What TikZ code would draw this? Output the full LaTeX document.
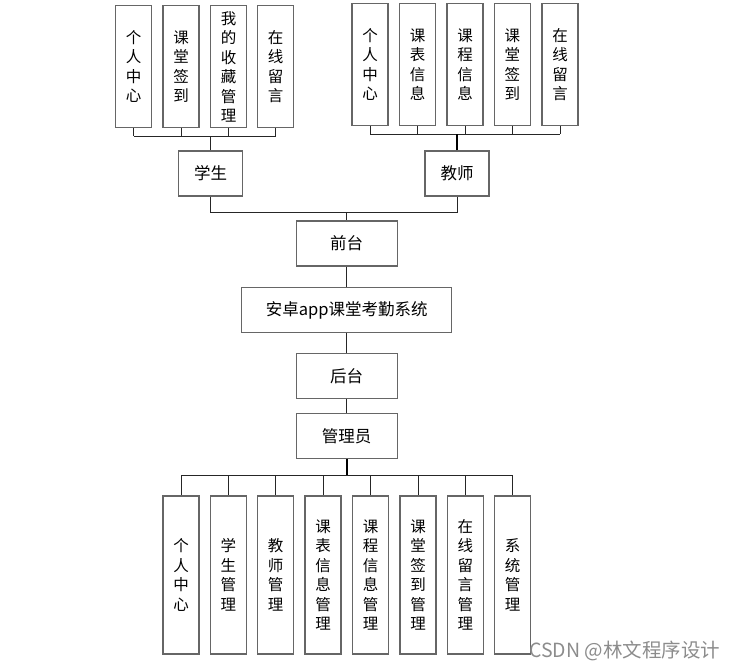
\documentclass[tikz,border=0pt]{standalone}
\usepackage{fontspec}
\setmainfont{Noto Sans CJK SC}
\begin{document}
\begin{tikzpicture}[x=1pt,y=-1pt,
  box/.style={draw=black!60,line width=1.3pt,fill=white,inner sep=0pt,align=center,
    font=\fontsize{15.5}{19.5}\selectfont},
  vbox/.style={box,minimum width=36pt},
  hbox/.style={box,minimum height=45pt,font=\fontsize{16.5}{19.5}\selectfont},
  conn/.style={draw=black!85,line width=1pt},
  thick conn/.style={draw=black,line width=2pt}]
\useasboundingbox (0,0) rectangle (737,670);

% student subtree
\foreach \i/\x/\t in {1/133.7/个\\人\\中\\心,2/181/课\\堂\\签\\到,3/228.5/我\\的\\收\\藏\\管\\理,4/275.7/在\\线\\留\\言}
  \node[vbox,minimum height=122pt] (s\i) at (\x,66.7) {\t};
\node[hbox,minimum width=64pt] (stu) at (210.5,173.5) {学生};

% teacher subtree
\foreach \i/\x/\t in {1/370/个\\人\\中\\心,2/417.5/课\\表\\信\\息,3/465/课\\程\\信\\息,4/512.3/课\\堂\\签\\到,5/560/在\\线\\留\\言}
  \node[vbox,minimum height=122pt] (t\i) at (\x,64.5) {\t};
\node[hbox,minimum width=64pt] (tea) at (457,173.5) {教师};

% central column
\node[hbox,minimum width=101pt] (front) at (346.7,243.5) {前台};
\node[hbox,minimum width=210pt] (sys) at (346.7,310.2) {安卓app课堂考勤系统};
\node[hbox,minimum width=101pt] (back) at (346.7,375.8) {后台};
\node[hbox,minimum width=101pt] (admin) at (346.7,435.8) {管理员};

% admin subtree
\foreach \i/\x/\t in {1/181/个\\人\\中\\心,2/228.3/学\\生\\管\\理,3/275.7/教\\师\\管\\理,4/323/课\\表\\信\\息\\管\\理,5/370.7/课\\程\\信\\息\\管\\理,6/418/课\\堂\\签\\到\\管\\理,7/465.3/在\\线\\留\\言\\管\\理,8/512.7/系\\统\\管\\理}
  \node[vbox,minimum height=158pt] (a\i) at (\x,575) {\t};

% bus coordinates
\coordinate (sb) at (0,136);
\coordinate (tb) at (0,134.3);
\coordinate (mb) at (0,212);
\coordinate (ab) at (0,475);

% student connectors
\foreach \i in {1,...,4} \draw[conn] (s\i.south) -- (s\i.south |- sb);
\draw[conn] (s1.south |- sb) -- (s4.south |- sb);
\draw[conn] (stu.north) -- (stu.north |- sb);

% teacher connectors
\foreach \i in {1,...,5} \draw[conn] (t\i.south) -- (t\i.south |- tb);
\draw[conn] (t1.south |- tb) -- (t5.south |- tb);
\draw[thick conn] (tea.north) -- (tea.north |- tb);

% middle
\draw[conn] (stu.south) -- (stu.south |- mb) -- (tea.south |- mb) -- (tea.south);
\draw[conn] (front.north |- mb) -- (front.north);
\draw[conn] (front.south) -- (sys.north);
\draw[conn] (sys.south) -- (back.north);
\draw[conn] (back.south) -- (admin.north);

% admin connectors
\draw[thick conn] (admin.south) -- (admin.south |- ab);
\draw[conn] (a1.north |- ab) -- (a8.north |- ab);
\foreach \i in {1,...,8} \draw[conn] (a\i.north |- ab) -- (a\i.north);

% watermark
\node[anchor=base west,text=black!45,font=\fontsize{19.5}{19.5}\selectfont,inner sep=0pt] (wm) at (529,657) {CSDN @林文程序设计};
\end{tikzpicture}
\end{document}
